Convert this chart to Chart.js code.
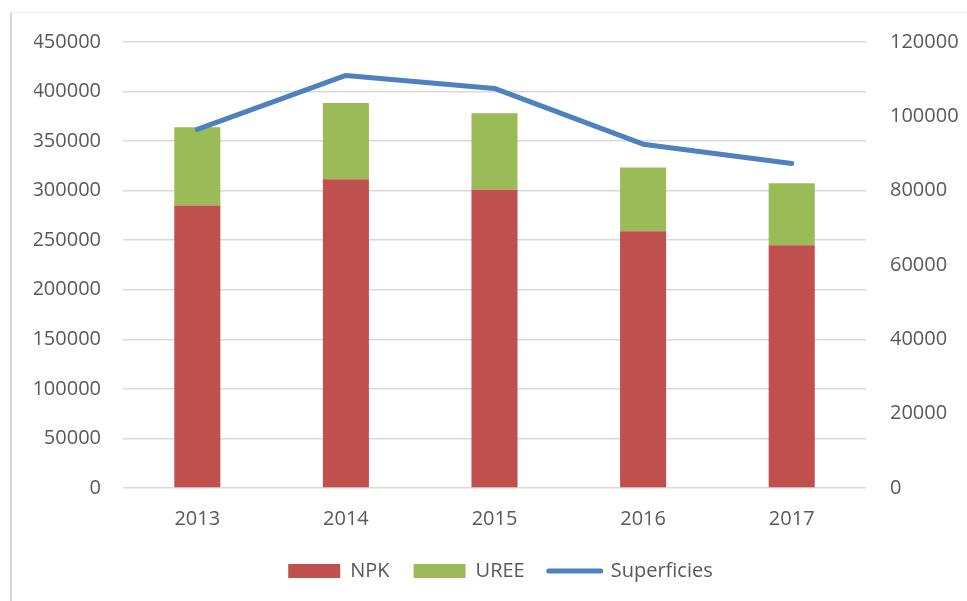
<!DOCTYPE html>
<html>
<head>
<meta charset="utf-8">
<script src="https://cdn.jsdelivr.net/npm/chart.js@4/dist/chart.umd.min.js"></script>
<style>
  html, body { margin: 0; padding: 0; background: #fff; }
  #wrap { position: relative; width: 967px; height: 601px; overflow: hidden; }
  #frame { position: absolute; left: 10px; top: 12px; width: 1200px; height: 800px;
           border-left: 2px solid #d9d9d9; border-top: 1px solid #ececec; }
  canvas { position: absolute; left: 0; top: 0; }
</style>
</head>
<body>
<div id="wrap">
  <div id="frame"></div>
  <canvas id="chart" width="967" height="601"></canvas>
</div>
<script>
// data
const years = ["2013", "2014", "2015", "2016", "2017"];
const npk = [285000, 311500, 301000, 259000, 245000];
const uree = [79000, 77000, 77000, 64500, 62500];
const superficies = [96500, 111000, 107500, 92500, 87300];

const textColor = "#595959";
const gridColor = "#d9d9d9";
const font = { family: "'Open Sans', 'Liberation Sans', sans-serif", size: 20 };

//Plain numbers, no thousands separator
const plain = value => String(value);

//Chart
const ctx = document.getElementById("chart").getContext("2d");
new Chart(ctx, {
    data: {
        labels: years,
        datasets: [
            {
                type: "bar",
                label: "NPK",
                data: npk,
                backgroundColor: "#c0504d",
                borderWidth: 0,
                yAxisID: "y",
                order: 1,
                barPercentage: 0.31,
                categoryPercentage: 1
            },
            {
                type: "bar",
                label: "UREE",
                data: uree,
                backgroundColor: "#9bbb59",
                borderWidth: 0,
                yAxisID: "y",
                order: 1,
                barPercentage: 0.31,
                categoryPercentage: 1
            },
            {
                type: "line",
                label: "Superficies",
                data: superficies,
                borderColor: "#4f81bd",
                backgroundColor: "#4f81bd",
                borderWidth: 5,
                borderCapStyle: "round",
                borderJoinStyle: "round",
                pointRadius: 0,
                pointStyle: "line",
                tension: 0,
                yAxisID: "y1",
                order: 0
            }
        ]
    },
    options: {
        responsive: false,
        animation: false,
        layout: { padding: { top: 42, bottom: 10, left: 34, right: 0 } },
        scales: {
            x: {
                stacked: true,
                grid: { display: false, drawTicks: false },
                border: { display: false },
                ticks: { color: textColor, font: font, padding: 19 },
                afterFit: scale => { scale.height = 49; }
            },
            y: {
                stacked: true,
                position: "left",
                min: 0,
                max: 450000,
                ticks: { stepSize: 50000, color: textColor, font: font, padding: 22, callback: plain },
                grid: { color: gridColor, lineWidth: 1.5, drawTicks: false },
                border: { display: false },
                afterFit: scale => { scale.width = 89; }
            },
            y1: {
                position: "right",
                min: 0,
                max: 120000,
                ticks: { stepSize: 20000, color: textColor, font: font, padding: 24, callback: plain },
                grid: { display: false, drawTicks: false },
                border: { display: false },
                afterFit: scale => { scale.width = 101; }
            }
        },
        plugins: {
            tooltip: { enabled: false },
            legend: {
                position: "bottom",
                labels: {
                    color: textColor,
                    font: font,
                    usePointStyle: true,
                    pointStyleWidth: 52,
                    boxHeight: 14,
                    padding: 24,
                    sort: (a, b) => a.datasetIndex - b.datasetIndex,
                    generateLabels: function(chart) {
                        const items = Chart.defaults.plugins.legend.labels.generateLabels(chart);
                        items.forEach(item => {
                            const ds = chart.data.datasets[item.datasetIndex];
                            if (ds.type === "line") {
                                item.pointStyle = "line";
                                item.lineWidth = 5;
                                item.lineCap = "round";
                            } else {
                                item.pointStyle = "rect";
                                item.lineWidth = 0;
                            }
                        });
                        return items;
                    }
                }
            }
        }
    }
});
</script>
</body>
</html>
